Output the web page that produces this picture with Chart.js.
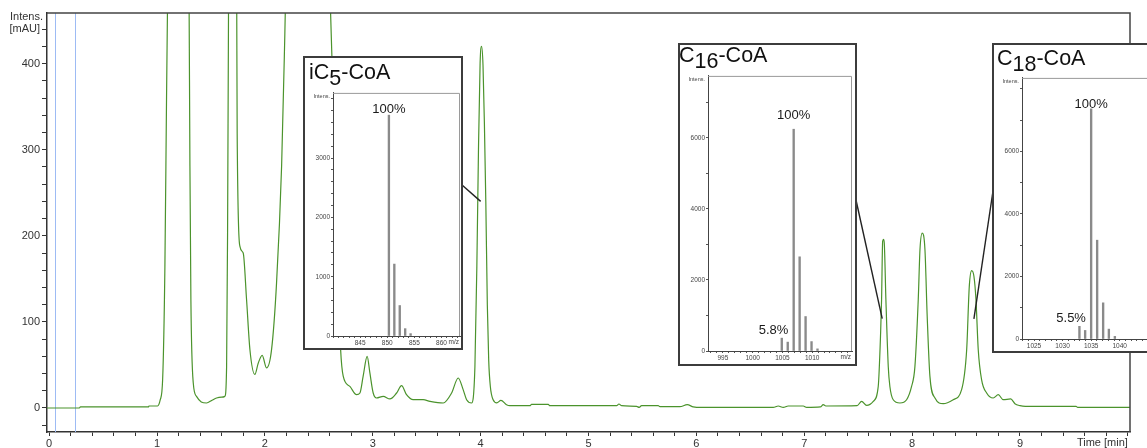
<!DOCTYPE html>
<html>
<head>
<meta charset="utf-8">
<script src="https://cdn.jsdelivr.net/npm/chart.js@4.4.1/dist/chart.umd.min.js"></script>
<style>
  html, body { margin: 0; padding: 0; background: #fff; overflow: hidden; }
  #stage { position: relative; width: 1147px; height: 448px; overflow: hidden; font-family: "Liberation Sans", Arial, sans-serif; }
  #stage canvas { position: absolute; }
  .inset { position: absolute; box-sizing: border-box; border: 2px solid #3c3c3c; background: #fff; z-index: 1; }
  .inset-title { position: absolute; z-index: 3; font-size: 21.5px; line-height: 1; color: #111; white-space: nowrap; }
  .inset-title sub { font-size: 1em; vertical-align: -0.3em; line-height: 0; }
</style>
</head>
<body>
<div id="stage">
  <canvas id="chromatogram" width="1147" height="448" style="left:0;top:0"></canvas>
</div>
<script>
// UV trace (retention time in min, absorbance in mAU)
const retentionTimes = [
  -0.02, 0.28, 0.29, 0.92, 0.925, 1.005, 1.03, 1.052, 1.073, 1.088,
  1.1, 1.2, 1.296, 1.305, 1.314, 1.336, 1.366, 1.41, 1.459, 1.51,
  1.552, 1.6, 1.629, 1.645, 1.654, 1.664, 1.7, 1.738, 1.743, 1.768,
  1.799, 1.83, 1.861, 1.907, 1.938, 1.975, 2.015, 2.062, 2.108, 2.155,
  2.185, 2.196, 2.4, 2.6, 2.609, 2.633, 2.664, 2.702, 2.726, 2.788,
  2.85, 2.881, 2.911, 2.948, 2.973, 3.004, 3.035, 3.097, 3.159, 3.221,
  3.267, 3.313, 3.375, 3.468, 3.53, 3.653, 3.731, 3.792, 3.838, 3.87,
  3.916, 3.947, 3.965, 3.98, 3.995, 4.009, 4.022, 4.035, 4.048, 4.062,
  4.075, 4.09, 4.116, 4.15, 4.188, 4.24, 4.271, 4.457, 4.472, 4.627,
  4.642, 5.261, 5.282, 5.307, 5.446, 5.47, 5.492, 5.646, 5.662, 5.847,
  5.915, 5.971, 6.002, 6.712, 6.759, 6.805, 6.851, 6.991, 7.022, 7.15,
  7.176, 7.2, 7.49, 7.532, 7.578, 7.64, 7.686, 7.708, 7.717, 7.727,
  7.735, 7.742, 7.757, 7.779, 7.794, 7.825, 7.887, 7.949, 7.995, 8.026,
  8.057, 8.073, 8.094, 8.119, 8.14, 8.165, 8.212, 8.289, 8.381, 8.459,
  8.506, 8.53, 8.552, 8.573, 8.592, 8.613, 8.644, 8.691, 8.752, 8.799,
  8.845, 8.914, 8.953, 9.0, 9.05, 9.52, 9.535, 10.02
];
const absorbance = [
  0, 0, 1.2, 1.2, 2.3, 2.3, 9.6, 33, 164, 358,
  500, 1500, 500, 281, 125, 29, 13.5, 7, 5.8, 9,
  11.6, 12.5, 13.5, 48, 203, 500, 1400, 500, 319, 188,
  180, 126, 68, 39, 52, 61, 46.5, 68, 145, 281,
  435, 500, 1000, 500, 459, 358, 203, 68, 37, 25,
  15.4, 17.4, 37, 60, 41, 17.4, 11.6, 13.5, 10.5, 17.4,
  26, 15.4, 9.6, 9.6, 7.7, 5.8, 17.4, 34.8, 21.3, 9.6,
  5.8, 48, 165, 300, 400, 420, 398, 330, 240, 120,
  55, 25, 9.6, 6, 8.8, 3.8, 2.7, 2.7, 4.2, 4.2,
  2.7, 2.7, 4.6, 2.7, 1.9, 0.7, 2.7, 2.7, 1.5, 1.5,
  3.8, 1.2, 0.7, 0.7, 2.3, 0.7, 2.3, 2.3, 0.7, 1.2,
  3.8, 2.3, 2.7, 7.7, 3, 7.7, 25, 87, 126, 193.5,
  196, 191.6, 126, 48, 25, 9.6, 5.8, 9.6, 25, 48,
  126, 184, 203, 184, 106, 37, 11.6, 5, 9.6, 21.3,
  68, 141, 159.5, 153, 126, 68, 33, 17.4, 11.6, 15.4,
  9.6, 10.5, 5, 2.7, 1.9, 1.9, 0.7, 0.7
];
const markerTimes = [0.056, 0.24];

// mass spectra of the three acyl-CoA peaks (m/z, counts)
const ic5Mz = [850.3, 851.3, 852.3, 853.3, 854.3];
const ic5Counts = [3725, 1213, 514, 124, 40];
const c16Mz = [1004.9, 1005.9, 1006.9, 1007.9, 1008.9, 1009.9, 1010.9];
const c16Counts = [362, 250, 6240, 2650, 970, 265, 60];
const c18Mz = [1032.95, 1033.95, 1035.0, 1036.05, 1037.1, 1038.1, 1039.15];
const c18Counts = [405, 274, 7360, 3160, 1157, 316, 84];

const FONT = '"Liberation Sans", Arial, sans-serif';
const isWhole = (v) => Math.abs(v - Math.round(v)) < 1e-6;

const insets = [
    {
        title: ['iC', '5', '-CoA'], mz: ic5Mz, counts: ic5Counts,
        xMin: 840, xMax: 863.4, yMax: 4100, yMinor: 200, yMajor: 1000,
        box: [303, 56, 160, 294], plot: [305, 88, 156, 260], titleAt: [309, 62],
        padRight: 1, topGap: 2.6, minor: null, unitLabel: true,
        callout: { from: [462, 185], at: [4.0, 240] },
    },
    {
        title: ['C', '16', '-CoA'], mz: c16Mz, counts: c16Counts,
        xMin: 992.5, xMax: 1016.7, yMax: 7740, yMinor: 1000, yMajor: 2000,
        box: [678, 43, 179, 323], plot: [680, 71, 174, 292], titleAt: [679, 45],
        padRight: 2, topGap: 10.6, minor: 0, unitLabel: true,
        callout: { from: [856, 200], at: [7.723, 103.7] },
    },
    {
        title: ['C', '18', '-CoA'], mz: c18Mz, counts: c18Counts,
        xMin: 1022.9, xMax: 1046, yMax: 8350, yMinor: 1000, yMajor: 2000,
        box: [992, 43, 200, 310], plot: [994, 73, 162, 278], titleAt: [997, 48],
        padRight: 2, topGap: 1, minor: 0, unitLabel: false,
        callout: { from: [993, 191], at: [8.573, 103.4] },
    },
];

const chromatogramDecor = {
    id: 'chromatogramDecor',
    beforeDatasetsDraw(chart) {
        const { ctx, chartArea: a, scales: { x } } = chart;
        ctx.save();
        ctx.strokeStyle = '#9dbbf4';
        ctx.lineWidth = 1;
        markerTimes.forEach((t) => {
            const px = Math.round(x.getPixelForValue(t)) + 0.5;
            ctx.beginPath();
            ctx.moveTo(px, a.top);
            ctx.lineTo(px, a.bottom);
            ctx.stroke();
        });
        ctx.restore();
    },
    afterDraw(chart) {
        const { ctx, chartArea: a, scales: { x, y } } = chart;
        ctx.save();
        // top and right frame
        ctx.strokeStyle = '#444';
        ctx.lineWidth = 1.5;
        ctx.beginPath();
        ctx.moveTo(a.left, a.top);
        ctx.lineTo(a.right, a.top);
        ctx.lineTo(a.right, a.bottom);
        ctx.stroke();

        ctx.fillStyle = '#333';
        ctx.font = `11px ${FONT}`;
        ctx.textAlign = 'right';
        ctx.textBaseline = 'middle';
        ctx.fillText('Intens.', a.left - 4, 17);
        ctx.textBaseline = 'top';
        ctx.fillText('Time [min]', x.getPixelForValue(10), a.bottom + 5);

        // callout lines to the peaks
        ctx.strokeStyle = '#222';
        ctx.lineWidth = 1.4;
        insets.forEach(({ callout }) => {
            ctx.beginPath();
            ctx.moveTo(callout.from[0], callout.from[1]);
            ctx.lineTo(x.getPixelForValue(callout.at[0]), y.getPixelForValue(callout.at[1]));
            ctx.stroke();
        });
        ctx.restore();
    },
};

new Chart(document.getElementById('chromatogram'), {
    type: 'line',
    data: {
        datasets: [{
            data: retentionTimes.map((t, i) => ({ x: t, y: absorbance[i] })),
            borderColor: '#4b932c',
            borderWidth: 1.2,
            pointRadius: 0,
            cubicInterpolationMode: 'monotone',
            clip: 0,
        }],
    },
    options: {
        responsive: false,
        animation: false,
        devicePixelRatio: 1,
        layout: { padding: { top: 13, right: 17, left: 0, bottom: 0 } },
        plugins: { legend: { display: false }, tooltip: { enabled: false } },
        scales: {
            x: {
                type: 'linear',
                min: -0.02,
                max: 10.02,
                afterBuildTicks: (s) => { s.ticks = Array.from({ length: 51 }, (_, i) => ({ value: i / 5 })); },
                afterFit: (s) => { s.height = 16; },
                grid: { drawOnChartArea: false, tickLength: 4, tickColor: '#333' },
                border: { color: '#333', width: 1.5 },
                ticks: {
                    autoSkip: false, maxRotation: 0, padding: 1, color: '#333',
                    font: { family: FONT, size: 11 },
                    callback: (v) => (isWhole(v) && v < 9.5 ? String(Math.round(v)) : ''),
                },
            },
            y: {
                min: -27.9,
                max: 458.8,
                afterBuildTicks: (s) => { s.ticks = Array.from({ length: 24 }, (_, i) => ({ value: -20 + i * 20 })); },
                afterFit: (s) => { s.width = 47; },
                grid: { drawOnChartArea: false, tickLength: 5, tickColor: '#333' },
                border: { color: '#333', width: 1.5 },
                ticks: {
                    autoSkip: false, padding: 2, color: '#333',
                    font: { family: FONT, size: 11 },
                    callback: (v) => (v === 440 ? '[mAU]' : (v >= 0 && v % 100 === 0 ? String(v) : '')),
                },
            },
        },
    },
    plugins: [chromatogramDecor],
});

const spectrumDecor = {
    id: 'spectrumDecor',
    afterDatasetsDraw(chart, args, opts) {
        const { ctx, chartArea: a } = chart;
        const meta = chart.getDatasetMeta(0);
        const values = chart.data.datasets[0].data.map((p) => p.y);
        const top = Math.max(...values);
        const iTop = values.indexOf(top);
        ctx.save();

        ctx.strokeStyle = '#9a9a9a';
        ctx.lineWidth = 1;
        ctx.beginPath();
        ctx.moveTo(a.left, a.top + 0.5);
        ctx.lineTo(a.right - 0.5, a.top + 0.5);
        ctx.lineTo(a.right - 0.5, a.bottom);
        ctx.stroke();

        ctx.fillStyle = '#1a1a1a';
        ctx.font = `13px ${FONT}`;
        ctx.textBaseline = 'alphabetic';
        ctx.textAlign = 'center';
        const peak = meta.data[iTop];
        ctx.fillText('100%', peak.x, peak.y - opts.topGap);
        if (opts.minor !== null) {
            const bar = meta.data[opts.minor];
            const pct = Math.round((values[opts.minor] / top) * 1000) / 10;
            ctx.textAlign = 'right';
            ctx.fillText(`${pct.toFixed(1)}%`, bar.x + 6.5, bar.y - 4.5);
        }

        ctx.fillStyle = '#444';
        ctx.font = `5.5px ${FONT}`;
        ctx.textBaseline = 'top';
        ctx.textAlign = 'right';
        ctx.fillText('Intens.', a.left - 3, a.top + 1);
        if (opts.unitLabel) {
            ctx.font = `6.5px ${FONT}`;
            ctx.fillText('m/z', a.right - 1, a.bottom + 3);
        }
        ctx.restore();
    },
};

const stage = document.getElementById('stage');

insets.forEach((cfg) => {
    const box = document.createElement('div');
    box.className = 'inset';
    Object.assign(box.style, {
        left: `${cfg.box[0]}px`, top: `${cfg.box[1]}px`,
        width: `${cfg.box[2]}px`, height: `${cfg.box[3]}px`,
    });
    stage.appendChild(box);

    const title = document.createElement('div');
    title.className = 'inset-title';
    title.style.left = `${cfg.titleAt[0]}px`;
    title.style.top = `${cfg.titleAt[1]}px`;
    title.innerHTML = `${cfg.title[0]}<sub>${cfg.title[1]}</sub>${cfg.title[2]}`;
    stage.appendChild(title);

    const canvas = document.createElement('canvas');
    canvas.width = cfg.plot[2];
    canvas.height = cfg.plot[3];
    Object.assign(canvas.style, { left: `${cfg.plot[0]}px`, top: `${cfg.plot[1]}px`, zIndex: 2 });
    stage.appendChild(canvas);

    const xTicks = [];
    for (let m = Math.ceil(cfg.xMin); m <= cfg.xMax; m++) xTicks.push({ value: m });
    const yTicks = [];
    for (let c = 0; c <= cfg.yMax; c += cfg.yMinor) yTicks.push({ value: c });

    new Chart(canvas, {
        type: 'bar',
        data: {
            datasets: [{
                data: cfg.mz.map((m, i) => ({ x: m, y: cfg.counts[i] })),
                backgroundColor: '#8a8a8a',
                barThickness: 1.7,
            }],
        },
        options: {
            responsive: false,
            animation: false,
            devicePixelRatio: 1,
            layout: { padding: { top: 2, right: cfg.padRight, left: 0, bottom: 0 } },
            plugins: {
                legend: { display: false },
                tooltip: { enabled: false },
                spectrumDecor: { topGap: cfg.topGap, minor: cfg.minor, unitLabel: cfg.unitLabel },
            },
            scales: {
                x: {
                    type: 'linear',
                    offset: false,
                    min: cfg.xMin,
                    max: cfg.xMax,
                    afterBuildTicks: (s) => { s.ticks = xTicks; },
                    afterFit: (s) => { s.height = 12; },
                    grid: { drawOnChartArea: false, offset: false, tickLength: 2, tickColor: '#555' },
                    border: { color: '#444', width: 1 },
                    ticks: {
                        autoSkip: false, maxRotation: 0, padding: 1, color: '#444',
                        font: { family: FONT, size: 6.5 },
                        callback: (v) => (v % 5 === 0 && v - cfg.xMin > 1 && cfg.xMax - v > 2.5 ? String(v) : ''),
                    },
                },
                y: {
                    min: 0,
                    max: cfg.yMax,
                    afterBuildTicks: (s) => { s.ticks = yTicks; },
                    afterFit: (s) => { s.width = 28; },
                    grid: { drawOnChartArea: false, tickLength: 2, tickColor: '#555' },
                    border: { color: '#444', width: 1 },
                    ticks: {
                        autoSkip: false, padding: 1, color: '#444',
                        font: { family: FONT, size: 6.5 },
                        callback: (v) => (v % cfg.yMajor === 0 && cfg.yMax - v > cfg.yMax * 0.05 ? String(v) : ''),
                    },
                },
            },
        },
        plugins: [spectrumDecor],
    });
});
</script>
</body>
</html>
